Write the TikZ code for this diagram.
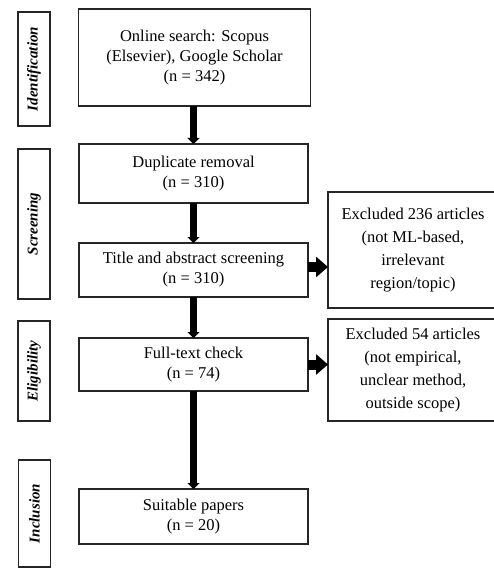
\documentclass[tikz,border=0pt]{standalone}
\usepackage{fontspec}
\setmainfont{Liberation Serif}
\usetikzlibrary{arrows.meta}
\tikzset{
  box/.style={draw=black!85, line width=1.4pt, inner sep=0pt, outer sep=0pt, align=center,
    font=\fontsize{16.5}{20}\selectfont},
  exbox/.style={box, font=\fontsize{16.5}{23}\selectfont},
  side/.style={draw=black!85, line width=1.6pt, inner sep=0pt, outer sep=0pt, minimum width=32pt,
    font=\fontsize{15}{18}\selectfont\bfseries\itshape},
  varrow/.style={line width=7pt, -{Triangle[length=6pt,width=12pt]}},
  harrow/.style={line width=10pt, -{Triangle[length=12pt,width=20pt]}}
}
\begin{document}
\begin{tikzpicture}[x=1pt,y=-1pt]
\clip (0,0) rectangle (494,569);
\fill[white] (0,0) rectangle (494,569);
% side labels
\node[side, minimum height=114pt] (ident) at (34,69) {\rotatebox{90}{Identification}};
\node[side, minimum height=150pt] (scr) at (34,224) {\rotatebox{90}{Screening}};
\node[side, minimum height=100pt] (elig) at (34,371) {\rotatebox{90}{Eligibility}};
\node[side, minimum height=107pt] (incl) at (34.5,513.5) {\rotatebox{90}{Inclusion}};
% main boxes
\node[box, minimum width=232pt, minimum height=97pt] (b1) at (194.5,57.5) {Online search: Scopus\\(Elsevier), Google Scholar\\(n = 342)};
\node[box, minimum width=229pt, minimum height=59pt] (b2) at (193.5,173.5) {Duplicate removal\\(n = 310)};
\node[box, minimum width=229pt, minimum height=54pt] (b3) at (193.5,270) {Title and abstract screening\\(n = 310)};
\node[box, minimum width=229pt, minimum height=53pt] (b4) at (193.5,364.5) {Full-text check\\(n = 74)};
\node[box, minimum width=229pt, minimum height=55pt] (b5) at (193.5,516.5) {Suitable papers\\(n = 20)};
% excluded boxes
\node[exbox, minimum width=170pt, minimum height=116pt] (ex1) at (413,250) {Excluded 236 articles\\(not ML-based,\\irrelevant\\region/topic)};
\node[exbox, minimum width=170pt, minimum height=102pt] (ex2) at (413,370) {Excluded 54 articles\\(not empirical,\\unclear method,\\outside scope)};
% arrows
\draw[varrow] (b1.south -| b2.north) -- (b2.north);
\draw[varrow] (b2) -- (b3);
\draw[varrow] (b3) -- (b4);
\draw[varrow] (b4) -- (b5);
\draw[harrow] (b3.east) ++(0,-3) coordinate (h1) (h1) -- (h1 -| ex1.west);
\draw[harrow] (b4.east) -- (b4.east -| ex2.west);
\end{tikzpicture}
\end{document}
